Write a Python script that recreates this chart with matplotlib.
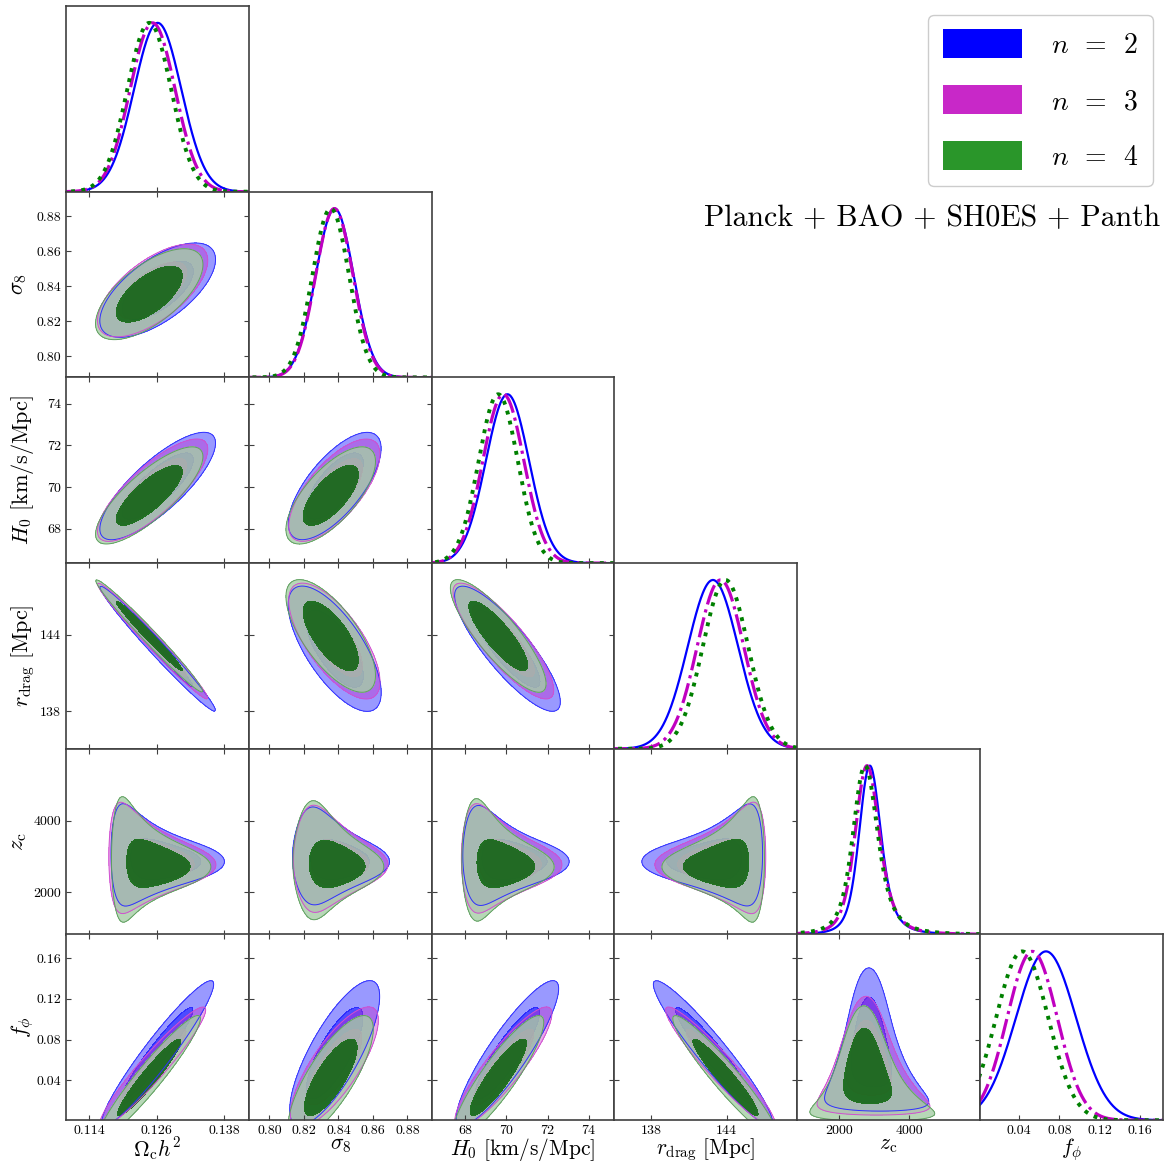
import numpy as np
import matplotlib.pyplot as plt
from matplotlib.patches import Patch
from matplotlib.colors import to_rgba

plt.rcParams.update({
    'font.family': 'serif',
    'font.serif': ['cmr10'],
    'mathtext.fontset': 'cm',
    'axes.formatter.use_mathtext': True,
    'axes.edgecolor': '0.25',
    'axes.linewidth': 1.2,
    'xtick.color': '0.25',
    'ytick.color': '0.25',
    'xtick.labelcolor': 'black',
    'ytick.labelcolor': 'black',
})

# parameters: Omega_c h^2, sigma_8, H0, r_drag, z_c, f_phi
labels = [r'$\Omega_{\rm c} h^2$', r'$\sigma_8$', r'$H_0\ [{\rm km/s/Mpc}]$',
          r'$r_{\rm drag}\ [{\rm Mpc}]$', r'$z_{\rm c}$', r'$f_\phi$']
axis_lo = [0.1099, 0.788, 66.36, 135.07, 810, 0.001]
axis_hi = [0.1424, 0.894, 75.25, 149.6, 6020, 0.183]
ticks = [[0.114, 0.126, 0.138], [0.80, 0.82, 0.84, 0.86, 0.88], [68, 70, 72, 74],
         [138, 144], [2000, 4000], [0.04, 0.08, 0.12, 0.16]]
tick_labels = [['0.114', '0.126', '0.138'], ['0.80', '0.82', '0.84', '0.86', '0.88'],
               ['68', '70', '72', '74'], ['138', '144'], ['2000', '4000'],
               ['0.04', '0.08', '0.12', '0.16']]

models = [r'$n \enspace = \enspace 2$', r'$n \enspace = \enspace 3$',
          r'$n \enspace = \enspace 4$']
line_colors = ['#0000ff', '#c000c0', '#008000']
line_styles = ['-', '-.', ':']
line_widths = [1.6, 2.3, 2.8]
outer_fill = [('#0000ff', 0.40), ('#c828c8', 0.40), ('#a5cda5', 0.80)]
inner_fill = [('#0000ff', 0.70), ('#c828c8', 0.80), ('#1a6e1a', 0.95)]
edge_colors = ['#3030ff', '#d050d0', '#60a060']
patch_colors = ['#0000ff', '#c828c8', '#2a962a']

# marginal means / widths of Omega_c h^2, sigma_8, H0, r_drag, f_phi per model
means = [[0.1262, 0.8378, 70.05, 142.9, 0.0667],
         [0.1253, 0.8376, 69.85, 143.5, 0.0530],
         [0.1247, 0.8355, 69.60, 143.9, 0.0430]]
sigmas = [[0.0042, 0.0110, 1.05, 2.00, 0.030],
          [0.0040, 0.0108, 1.00, 1.85, 0.025],
          [0.0039, 0.0106, 0.95, 1.80, 0.026]]
# correlations among Omega_c h^2, sigma_8, H0, r_drag, f_phi
corr = [[1.00, 0.65, 0.80, -0.985, 0.95],
        [0.65, 1.00, 0.70, -0.70, 0.78],
        [0.80, 0.70, 1.00, -0.85, 0.89],
        [-0.985, -0.70, -0.85, 1.00, -0.95],
        [0.95, 0.78, 0.89, -0.95, 1.00]]
# z_c given f_phi: centre and spread widen as f_phi -> 0
zc_peak = [2850, 2760, 2700]
zc_shift = [450, 380, 330]
zc_shift_scale = 0.03
zc_sd_min = 190
zc_sd_slow = [1000, 850, 680]
zc_f_slow = 0.035
zc_sd_fast = [1900, 1550, 1250]
zc_f_fast = 0.010

NP = len(labels)
IZ, IF = 4, 5
FW, FH = 1166, 1162
X0, Y0, CW, RH = 66, 6, 182.8, 185.7
fgrid = np.linspace(0, 0.3, 500)


def gidx(k):
    return k if k < IZ else 4


def gauss1(x, m, s):
    return np.exp(-0.5 * ((x - m) / s) ** 2) / s


def gauss2(X, Y, mx, my, sx, sy, r):
    zx = (X - mx) / sx
    zy = (Y - my) / sy
    q = (zx ** 2 - 2 * r * zx * zy + zy ** 2) / (1 - r ** 2)
    return np.exp(-0.5 * q) / (sx * sy * np.sqrt(1 - r ** 2))


def grid(k, n=300):
    lo, hi = axis_lo[k], axis_hi[k]
    w = hi - lo
    a = 0.0 if k == IF else lo - 0.6 * w
    return np.linspace(a, hi + 0.6 * w, n)


def zc_centre(m, f):
    return zc_peak[m] + zc_shift[m] * np.exp(-f / zc_shift_scale)


def zc_spread(m, f):
    return (zc_sd_min + zc_sd_slow[m] * np.exp(-f / zc_f_slow)
            + zc_sd_fast[m] * np.exp(-f / zc_f_fast))


def zc_cond(m, f, z):
    # rows: f values, columns: z values
    return gauss1(z[None, :], zc_centre(m, f)[:, None], zc_spread(m, f)[:, None])


def dens1(m, k, x):
    if k == IZ:
        pf = gauss1(fgrid, means[m][4], sigmas[m][4])
        return pf @ zc_cond(m, fgrid, x)
    g = gidx(k)
    return gauss1(x, means[m][g], sigmas[m][g])


def dens2(m, c, r, xs, ys):
    if r == IZ:
        g = gidx(c)
        A = gauss2(xs[:, None], fgrid[None, :], means[m][g], means[m][4],
                   sigmas[m][g], sigmas[m][4], corr[g][4])
        return (A @ zc_cond(m, fgrid, ys)).T
    if c == IZ:
        pf = gauss1(ys, means[m][4], sigmas[m][4])
        return pf[:, None] * zc_cond(m, ys, xs)
    X, Y = np.meshgrid(xs, ys)
    gc, gr = gidx(c), gidx(r)
    return gauss2(X, Y, means[m][gc], means[m][gr], sigmas[m][gc], sigmas[m][gr],
                  corr[gc][gr])


def levels(D, probs=(0.95, 0.68)):
    flat = np.sort(D.ravel())[::-1]
    c = np.cumsum(flat)
    c /= c[-1]
    return [flat[np.searchsorted(c, p)] for p in probs]


fig = plt.figure(figsize=(FW / 100, FH / 100), dpi=100)
axes = {}
for r in range(NP):
    for c in range(r + 1):
        left = (X0 + CW * c) / FW
        bottom = 1 - (Y0 + RH * (r + 1)) / FH
        axes[(r, c)] = fig.add_axes([left, bottom, CW / FW, RH / FH])

for r in range(NP):
    for c in range(r + 1):
        ax = axes[(r, c)]
        if r == c:
            x = grid(c, 600)
            for m in range(3):
                d = dens1(m, c, x)
                ax.plot(x, d / d.max(), color=line_colors[m], ls=line_styles[m],
                        lw=line_widths[m])
            ax.set_ylim(0, 1.1)
            ax.set_yticks([])
            ax.tick_params(axis='x', direction='in', top=False, bottom=True)
        else:
            xs, ys = grid(c), grid(r)
            X, Y = np.meshgrid(xs, ys)
            for m in range(3):
                D = dens2(m, c, r, xs, ys)
                t95, t68 = levels(D)
                top = D.max() * 1.1
                ax.contourf(X, Y, D, levels=[t95, t68, top],
                            colors=[to_rgba(*outer_fill[m]), to_rgba(*inner_fill[m])])
                ax.contour(X, Y, D, levels=[t95], colors=[edge_colors[m]],
                           linewidths=0.7)
            ax.set_ylim(axis_lo[r], axis_hi[r])
            ax.set_yticks(ticks[r])
            ax.tick_params(direction='in', top=True, bottom=True, left=True, right=True)
            if c == 0:
                ax.set_yticklabels(tick_labels[r], fontsize=10)
                ax.set_ylabel(labels[r], fontsize=16, va='top')
                ax.yaxis.set_label_coords((9 - X0) / CW, 0.5)
            else:
                ax.set_yticklabels([])
        ax.set_xlim(axis_lo[c], axis_hi[c])
        ax.set_xticks(ticks[c])
        if r == NP - 1:
            ax.set_xticklabels(tick_labels[c], fontsize=10)
            ax.set_xlabel(labels[c], fontsize=15.5, va='top')
            ax.xaxis.set_label_coords(0.5, -15.5 / RH)
        else:
            ax.set_xticklabels([])

handles = [Patch(facecolor=col, edgecolor='none') for col in patch_colors]
fig.legend(handles, models, loc='upper right',
           bbox_to_anchor=(1153 / FW, 1 - 15 / FH), borderaxespad=0,
           fontsize=20, handlelength=2.85, handleheight=1.2, handletextpad=1.05,
           labelspacing=0.95, borderpad=0.52, fancybox=True, edgecolor='0.8',
           framealpha=1)
fig.text(1160 / FW, 1 - 218 / FH, 'Planck + BAO + SH0ES + Panth',
         ha='right', va='center', fontsize=21.5)

fig.savefig('out.png', dpi=100)
